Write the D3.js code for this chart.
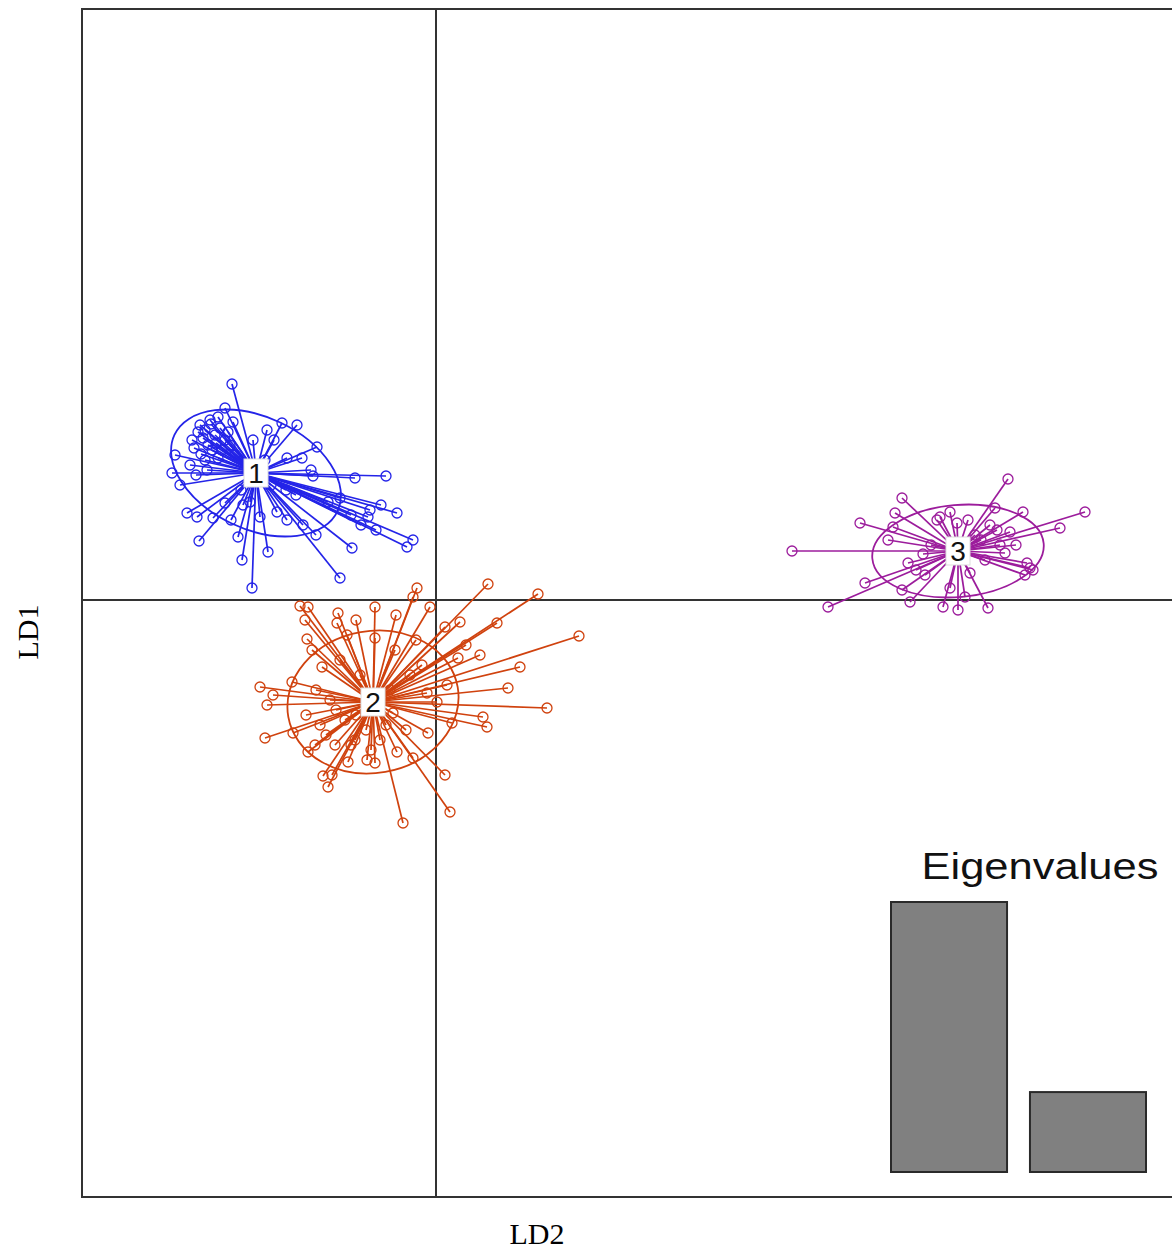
<!DOCTYPE html>
<html>
<head>
<meta charset="utf-8">
<script src="https://cdn.jsdelivr.net/npm/d3@7"></script>
<style>
  body { margin: 0; background: #fff; }
  svg { display: block; }
</style>
</head>
<body>
<div id="chart"></div>
<script>
// groups and their centroids (LD2, LD1)
var groups = ["1", "2", "3"];
var colors = ["#2424e8", "#d0420e", "#9c1c9c"];
var centroids = [[-3.60, 2.54], [-1.26, -2.04], [10.44, 0.98]];

// ellipse: semi axes and rotation (deg) for each group
var ellAxes = [[1.80, 1.12], [1.72, 1.42], [1.72, 0.92]];
var ellAngle = [-25, 10, 5];

// individual scores, one list per group
var pts1 = [[-4.08,4.32],[-1.00,2.48],[-0.78,1.74],[-0.46,1.20],[-0.58,1.06],[-1.68,1.04],[-1.92,0.44],
  [-3.68,0.24],[-3.88,0.80],[-3.36,0.96],[-4.74,1.18],[-3.96,1.26],[-4.98,1.74],[-4.78,1.66],[-4.46,1.64],
  [-5.12,2.30],[-5.28,2.54],[-5.22,2.90],[-4.88,3.20],[-4.72,3.50],[-4.62,3.40],[-4.52,3.60],[-4.42,3.30],
  [-4.32,3.44],[-4.56,3.10],[-4.22,3.20],[-4.76,3.36],[-4.48,3.00],[-4.12,3.10],[-4.62,2.80],[-4.36,2.84],
  [-4.02,2.90],[-4.92,2.70],[-3.08,3.54],[-2.78,3.50],[-3.38,3.40],[-2.38,3.06],[-2.98,2.84],[-2.68,2.84],
  [-1.62,2.44],[-2.46,2.48],[-1.32,1.80],[-1.36,1.66],[-2.66,1.50],[-2.98,1.60],[-3.18,1.76],[-3.52,1.66],
  [-3.86,1.90],[-4.22,1.94],[-3.66,3.20],[-4.22,3.84],[-4.36,3.66],[-2.16,1.96],[-1.92,2.04],[-3.24,3.20],
  [-3.72,1.96],[-3.42,2.80],[-4.66,3.24],[-4.50,3.52],[-4.40,3.14],[-4.28,3.00],[-4.84,3.04],[-4.70,2.92],
  [-4.16,3.36],[-4.06,3.56],[-4.58,2.60],[-4.80,2.50],[-1.50,1.50],[-1.20,1.40],[-1.70,1.70],[-2.40,1.30],
  [-1.10,1.90],[-3.00,2.20],[-2.80,2.10],[-3.30,2.30],[-2.50,2.60],[-3.90,2.20],[-4.10,1.60]];
var pts2 = [[1.04,0.32],[2.04,0.12],[2.86,-0.72],[-0.38,0.24],[-0.46,0.06],[-0.12,-0.14],[-2.72,-0.12],
  [-2.56,-0.14],[-1.22,-0.14],[-1.96,-0.26],[-1.98,-0.46],[-2.62,-0.40],[1.22,-0.46],[0.48,-0.44],[0.18,-0.54],
  [-2.58,-0.78],[-1.22,-0.76],[-1.78,-0.70],[-2.48,-1.00],[-0.82,-1.00],[0.88,-1.10],[0.44,-1.16],[1.68,-1.34],
  [-2.28,-1.34],[-3.52,-1.74],[-3.26,-1.90],[-3.38,-2.10],[-2.88,-1.64],[1.44,-1.76],[0.22,-1.70],[2.22,-2.16],
  [0.94,-2.34],[1.02,-2.54],[0.32,-2.46],[-3.42,-2.76],[-2.86,-2.66],[-2.56,-3.04],[-0.16,-2.66],[-0.78,-3.04],
  [-0.46,-3.16],[-1.38,-3.20],[-1.22,-3.26],[-1.76,-3.24],[-2.26,-3.52],[-2.08,-3.50],[-2.16,-3.74],[0.18,-3.50],
  [0.28,-4.24],[-0.66,-4.46],[-0.28,-1.30],[-0.18,-1.86],[0.02,-2.04],[-2.12,-2.00],[-1.82,-2.40],[-2.42,-2.90],
  [-1.62,-2.80],[-0.92,-1.80],[-1.52,-1.50],[-0.86,-2.26],[-2.02,-2.90],[-2.32,-2.50],[-1.12,-2.80],
  [-1.92,-1.20],[-0.52,-1.50],[-1.60,-2.30],[-1.40,-2.60],[-2.00,-2.20],[-1.00,-2.50],[-1.70,-2.90],
  [-2.20,-2.70],[-1.30,-3.00],[-0.60,-2.60],[-2.40,-1.80],[-0.40,-0.80],[0.60,-0.90],[-1.60,-0.40],
  [-0.80,-0.30],[-2.60,-2.30]];
var pts3 = [[11.44,2.42],[9.32,2.04],[12.98,1.76],[9.18,1.74],[8.48,1.54],[10.02,1.60],[10.28,1.76],
  [10.64,1.60],[11.18,1.84],[11.74,1.76],[12.48,1.44],[9.14,1.46],[9.04,1.20],[7.12,0.98],[9.74,0.92],
  [9.44,0.74],[11.38,0.94],[11.94,0.60],[11.78,0.50],[10.68,0.54],[8.58,0.34],[9.32,0.20],[7.84,-0.14],
  [9.48,-0.04],[10.14,-0.14],[10.44,-0.20],[11.04,-0.16],[10.28,0.24],[10.58,0.06],[11.22,1.40],[11.48,1.36],
  [11.08,1.50],[10.42,1.54],[10.08,1.66],[11.88,0.64],[10.78,1.30],[11.28,1.10],[10.98,0.80],[9.78,0.50],
  [11.60,1.10],[11.82,0.74],[9.90,1.10],[10.90,1.20],[9.60,0.60]];
var points = [pts1, pts2, pts3];

// eigenvalues inset
var eigNames = ["LD1", "LD2"];
var eigValues = [100, 29.6];

var W = 1172, H = 1253;
var svg = d3.select("#chart").append("svg")
  .attr("width", W)
  .attr("height", H);

var x = d3.scaleLinear().domain([-7.08, 14.72]).range([82, 1172]);
var y = d3.scaleLinear().domain([-11.94, 11.82]).range([1197, 9]);

svg.append("clipPath").attr("id", "plotclip")
  .append("rect")
    .attr("x", x.range()[0]).attr("y", y.range()[1])
    .attr("width", x.range()[1] - x.range()[0])
    .attr("height", y.range()[0] - y.range()[1]);

var plot = svg.append("g").attr("clip-path", "url(#plotclip)");

// zero lines
plot.append("line")
  .attr("x1", x(0)).attr("x2", x(0))
  .attr("y1", y.range()[0]).attr("y2", y.range()[1])
  .style("stroke", "#333").style("stroke-width", 2);
plot.append("line")
  .attr("x1", x.range()[0]).attr("x2", x.range()[1])
  .attr("y1", y(0)).attr("y2", y(0))
  .style("stroke", "#333").style("stroke-width", 2);

var pxPerUnit = x(1) - x(0);

groups.forEach(function(g, i) {
  var c = centroids[i];
  var gg = plot.append("g");

  // ellipse
  gg.append("ellipse")
    .attr("cx", 0).attr("cy", 0)
    .attr("rx", ellAxes[i][0] * pxPerUnit)
    .attr("ry", ellAxes[i][1] * pxPerUnit)
    .attr("transform", "translate(" + x(c[0]) + "," + y(c[1]) + ") rotate(" + (-ellAngle[i]) + ")")
    .style("fill", "none")
    .style("stroke", colors[i])
    .style("stroke-width", 1.8);

  // star lines
  gg.selectAll("line.star")
    .data(points[i])
    .enter()
    .append("line")
      .attr("class", "star")
      .attr("x1", x(c[0])).attr("y1", y(c[1]))
      .attr("x2", function(d) { return x(d[0]); })
      .attr("y2", function(d) { return y(d[1]); })
      .style("stroke", colors[i])
      .style("stroke-width", 1.7);

  // individuals
  gg.selectAll("circle")
    .data(points[i])
    .enter()
    .append("circle")
      .attr("cx", function(d) { return x(d[0]); })
      .attr("cy", function(d) { return y(d[1]); })
      .attr("r", 5)
      .style("fill", "none")
      .style("stroke", colors[i])
      .style("stroke-width", 1.3);
});

// group labels
groups.forEach(function(g, i) {
  var c = centroids[i];
  svg.append("rect")
    .attr("x", x(c[0]) - 12).attr("y", y(c[1]) - 14)
    .attr("width", 24).attr("height", 28)
    .style("fill", "white")
    .style("stroke", "#ddd")
    .style("stroke-width", 1);
  svg.append("text")
    .attr("x", x(c[0])).attr("y", y(c[1]) + 10)
    .attr("text-anchor", "middle")
    .style("font-family", "Liberation Sans, Arial, sans-serif")
    .style("font-size", "28px")
    .style("fill", "#111")
    .text(g);
});

// frame
svg.append("rect")
  .attr("x", x.range()[0]).attr("y", y.range()[1])
  .attr("width", x.range()[1] - x.range()[0] + 10)
  .attr("height", y.range()[0] - y.range()[1])
  .style("fill", "none")
  .style("stroke", "#333")
  .style("stroke-width", 2);

// eigenvalues inset
var ex = d3.scaleBand().domain(eigNames).range([891, 1146]).paddingInner(0.165).paddingOuter(0);
var ey = d3.scaleLinear().domain([0, d3.max(eigValues)]).range([1172, 902]);

svg.selectAll("rect.eig")
  .data(eigValues)
  .enter()
  .append("rect")
    .attr("class", "eig")
    .attr("x", function(d, i) { return ex(eigNames[i]); })
    .attr("y", function(d) { return ey(d); })
    .attr("width", ex.bandwidth())
    .attr("height", function(d) { return ey(0) - ey(d); })
    .style("fill", "#808080")
    .style("stroke", "#2a2a2a")
    .style("stroke-width", 2);

svg.append("text")
  .attr("x", 1040).attr("y", 879)
  .attr("text-anchor", "middle")
  .attr("textLength", 237)
  .attr("lengthAdjust", "spacingAndGlyphs")
  .style("font-family", "Liberation Sans, Arial, sans-serif")
  .style("font-size", "36px")
  .style("fill", "#111")
  .text("Eigenvalues");

// axis titles
svg.append("text")
  .attr("x", 537).attr("y", 1244)
  .attr("text-anchor", "middle")
  .style("font-family", "Liberation Serif, Times New Roman, serif")
  .style("font-size", "30px")
  .text("LD2");

svg.append("text")
  .attr("transform", "translate(38,632) rotate(-90)")
  .attr("text-anchor", "middle")
  .style("font-family", "Liberation Serif, Times New Roman, serif")
  .style("font-size", "30px")
  .text("LD1");
</script>
</body>
</html>
